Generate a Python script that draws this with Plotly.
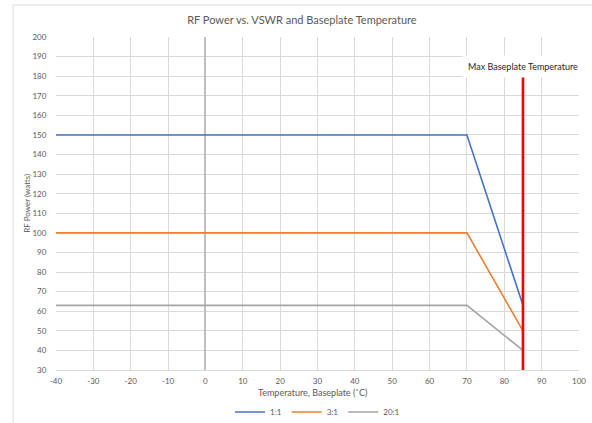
import plotly.graph_objects as go

temps = [-40, 70, 85]
power_1_1 = [150, 150, 63]
power_3_1 = [100, 100, 50]
power_20_1 = [63, 63, 40]
series_names = ["1:1", "3:1", "20:1"]
series_colors = ["#4472C4", "#ED7D31", "#A5A5A5"]
max_temp_x = [85, 85]
max_temp_y = [30, 180]
x_ticks = list(range(-40, 101, 10))
x_tick_text = [str(v).replace("\u2212", "-") for v in x_ticks]
y_ticks = list(range(30, 201, 10))

FONT = "Lato, 'Open Sans', sans-serif"

fig = go.Figure()
for name, vals, col in zip(series_names, [power_1_1, power_3_1, power_20_1], series_colors):
    fig.add_trace(go.Scatter(x=temps, y=vals, mode="lines", name=name,
                             line=dict(color=col, width=1.6)))
fig.add_trace(go.Scatter(x=max_temp_x, y=max_temp_y, mode="lines", showlegend=False,
                         line=dict(color="#FF0000", width=2.6), hoverinfo="skip"))

fig.add_annotation(x=85, y=185, xref="x", yref="y", text="Max Baseplate Temperature",
                   showarrow=False, bgcolor="white", borderpad=5,
                   font=dict(family=FONT, size=9, color="#262626"))

# axis titles
fig.add_annotation(x=0.49, y=-0.069, xref="paper", yref="paper", yanchor="middle",
                   text="Temperature, Baseplate (˚C)", showarrow=False,
                   font=dict(family=FONT, size=9, color="#595959"))
fig.add_annotation(x=-0.057, y=0.5, xref="paper", yref="paper", textangle=-90,
                   xanchor="center", yanchor="middle",
                   text="RF Power (watts)", showarrow=False,
                   font=dict(family=FONT, size=8, color="#595959"))

fig.add_shape(type="rect", xref="paper", yref="paper", x0=-0.082, x1=1.05, y0=-0.2, y1=1.096,
              line=dict(color="#D9D9D9", width=1), fillcolor="rgba(0,0,0,0)", layer="below")

fig.update_layout(
    width=592, height=423,
    margin=dict(l=56, r=13, t=37, b=53, autoexpand=False),
    paper_bgcolor="white", plot_bgcolor="white",
    title=dict(text="RF Power vs. VSWR and Baseplate Temperature", x=0.51, xanchor="center",
               y=1 - 20 / 423, yref="container", yanchor="middle", automargin=False,
               font=dict(family=FONT, size=11, color="#595959")),
    font=dict(family=FONT, size=8, color="#595959"),
    xaxis=dict(range=[-40, 100], tickvals=x_ticks, ticktext=x_tick_text, showgrid=True,
               gridcolor="#D9D9D9", gridwidth=1, zeroline=True, zerolinecolor="#BFBFBF",
               zerolinewidth=1.5, showline=True, linecolor="#D9D9D9", ticks="outside",
               ticklen=3, tickcolor="rgba(0,0,0,0)", automargin=False,
               tickfont=dict(family=FONT, size=8, color="#595959")),
    yaxis=dict(range=[30, 200], tickvals=y_ticks, showgrid=True, gridcolor="#D9D9D9",
               gridwidth=1, zeroline=False, showline=False, ticks="outside", ticklen=7,
               tickcolor="rgba(0,0,0,0)", automargin=False,
               tickfont=dict(family=FONT, size=8, color="#595959")),
    legend=dict(orientation="h", x=0.5, xanchor="center", y=11 / 423, yref="container",
                yanchor="middle", font=dict(family=FONT, size=8, color="#595959"),
                itemwidth=30),
    showlegend=True,
)

fig.write_html("out.html", config={"displayModeBar": False},
               post_script="document.body.style.margin='0';")
